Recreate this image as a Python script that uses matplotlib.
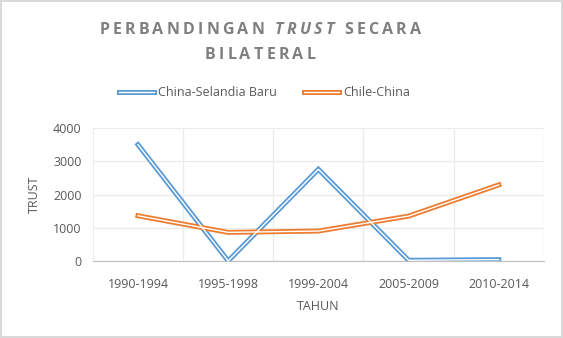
import matplotlib.pyplot as plt
from matplotlib.legend_handler import HandlerTuple

periode = ["1990-1994", "1995-1998", "1999-2004", "2005-2009", "2010-2014"]
china_selandia = [3500, 0, 2760, 20, 40]
chile_china = [1360, 860, 900, 1350, 2290]

biru = "#5b9bd5"
oranye = "#ed7d31"
abu = "#595959"

fig = plt.figure(figsize=(5.63, 3.38), dpi=100)
fig.patch.set_edgecolor("#d9d9d9")
fig.patch.set_linewidth(1.5)
ax = fig.add_axes([0.165, 0.228, 0.801, 0.393])

x = range(len(periode))
# garis ganda ala excel: garis tebal berwarna + garis putih tipis di tengah
h1 = ax.plot(x, china_selandia, color=biru, lw=3.6, solid_joinstyle="miter", zorder=3)[0]
w1 = ax.plot(x, china_selandia, color="white", lw=1.0, solid_joinstyle="miter", zorder=4)[0]
h2 = ax.plot(x, chile_china, color=oranye, lw=3.6, solid_joinstyle="miter", zorder=3)[0]
w2 = ax.plot(x, chile_china, color="white", lw=1.0, solid_joinstyle="miter", zorder=4)[0]

ax.set_xlim(-0.5, 4.5)
ax.set_ylim(0, 4000)
ax.set_yticks([0, 1000, 2000, 3000, 4000])
ax.set_xticks(list(x))
ax.set_xticklabels(periode)
ax.set_xticks([-0.5, 0.5, 1.5, 2.5, 3.5, 4.5], minor=True)
ax.grid(True, axis="y", color="#ebebeb", lw=0.9)
ax.grid(True, axis="x", which="minor", color="#ebebeb", lw=0.9)
ax.tick_params(axis="both", which="both", length=0, colors=abu, labelsize=9)
ax.tick_params(axis="x", pad=12)
ax.tick_params(axis="y", pad=8)
for s in ["top", "right", "left"]:
    ax.spines[s].set_visible(False)
ax.spines["bottom"].set_color("#bfbfbf")
ax.set_axisbelow(True)
for lbl in ax.get_xticklabels() + ax.get_yticklabels():
    lbl.set_fontfamily("Open Sans")

ax.set_ylabel("TRUST", fontsize=9, color=abu, family="Open Sans", labelpad=9)
ax.set_xlabel("TAHUN", fontsize=9, color=abu, family="Open Sans", labelpad=7)

leg = fig.legend([(h1, w1), (h2, w2)], ["China-Selandia Baru", "Chile-China"],
                 handler_map={tuple: HandlerTuple(ndivide=1)},
                 loc="center", bbox_to_anchor=(0.47, 0.725), ncol=2, frameon=False,
                 prop={"family": "Open Sans", "size": 9}, handlelength=2.8,
                 columnspacing=2.2, handletextpad=0.3)
for t in leg.get_texts():
    t.set_color(abu)

# judul dengan jarak antar huruf
renderer = fig.canvas.get_renderer()


def judul(bagian, y, cx=260, spasi=3.2):
    pos = []
    total = 0
    for teks, miring in bagian:
        for ch in teks:
            t = fig.text(0, 0, ch, fontsize=11.5, weight="bold", family="Open Sans",
                         style="italic" if miring else "normal", color="#7f7f7f",
                         va="center")
            lebar = t.get_window_extent(renderer).width
            if ch == " ":
                lebar = 4
            pos.append((t, total))
            total += lebar + spasi
    total -= spasi
    x0 = cx - total / 2
    for t, dx in pos:
        t.set_position(((x0 + dx) / 563, y))


judul([("PERBANDINGAN ", False), ("TRUST", True), (" SECARA", False)], 0.91)
judul([("BILATERAL", False)], 0.837)

fig.savefig("out.png", dpi=100)
